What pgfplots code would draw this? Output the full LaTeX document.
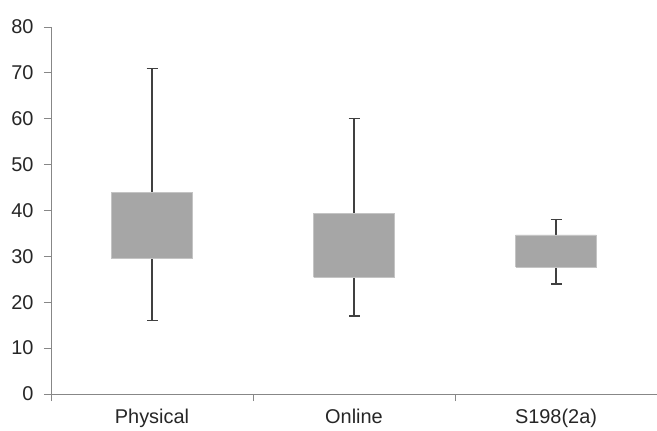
\documentclass[border=0pt]{standalone}
\usepackage{pgfplots}
\pgfplotsset{compat=1.18}
\usepackage{fontspec}
\setmainfont{Liberation Sans}

\definecolor{boxgray}{HTML}{A6A6A6}
\definecolor{boxedge}{HTML}{C4C4C4}
\definecolor{whisk}{HTML}{404040}
\definecolor{axgray}{HTML}{878787}
\definecolor{txt}{HTML}{262626}

% box: lower quartile to upper quartile, 0.4 wide
\pgfplotsset{
  qbox/.style={fill=boxgray, draw=boxedge, line width=0.6bp, mark=none},
  whisker/.style={draw=none, mark=none,
    error bars/.cd, y dir=#1, y explicit,
    error bar style={draw=whisk, line width=1.3bp},
    error mark options={draw=whisk, line width=1.3bp, mark size=5.5bp, rotate=90}},
}

\begin{document}
\begin{tikzpicture}
\begin{axis}[
  scale only axis,
  width=606bp, height=367bp,
  xmin=0.5, xmax=3.5,
  ymin=0, ymax=80,
  ytick={0,10,...,80},
  xtick={0.5,1.5,2.5,3.5},
  xticklabels={Physical,Online,S198(2a)},
  x tick label as interval,
  axis x line=bottom, axis y line=left,
  axis line style={-, draw=axgray, line width=0.8bp},
  tick style={draw=axgray, line width=0.8bp},
  tick align=outside,
  major tick length=7bp,
  tick label style={font=\fontsize{20}{24}\selectfont, text=txt},
  /pgf/number format/assume math mode=true,
  yticklabel style={xshift=-7bp},
  xticklabel style={yshift=-5bp},
]
  % whiskers (min -> Q1, Q3 -> max)
  \addplot[whisker=plus]  coordinates {(1,44)   +=(0,27)   (2,39.3) +=(0,20.7) (3,34.7) +=(0,3.3)};
  \addplot[whisker=minus] coordinates {(1,29.5) -=(0,13.5) (2,25.4) -=(0,8.4)  (3,27.7) -=(0,3.7)};
  % boxes
  \addplot[qbox] coordinates {(0.8,29.5) (1.2,29.5) (1.2,44)   (0.8,44)   (0.8,29.5)};
  \addplot[qbox] coordinates {(1.8,25.4) (2.2,25.4) (2.2,39.3) (1.8,39.3) (1.8,25.4)};
  \addplot[qbox] coordinates {(2.8,27.7) (3.2,27.7) (3.2,34.7) (2.8,34.7) (2.8,27.7)};
  \coordinate (ll) at (rel axis cs:0,0);
  \coordinate (ur) at (rel axis cs:1,1);
\end{axis}
\pgfresetboundingbox
\path[use as bounding box] ([xshift=-51bp,yshift=-37bp]ll) rectangle ([yshift=27bp]ur);
\end{tikzpicture}
\end{document}
